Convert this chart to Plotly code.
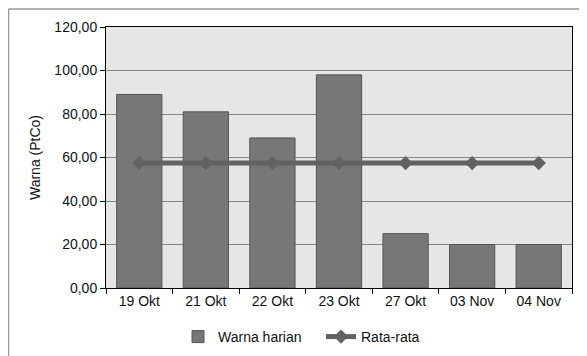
import plotly.graph_objects as go

categories = ["19 Okt", "21 Okt", "22 Okt", "23 Okt", "27 Okt", "03 Nov", "04 Nov"]
warna_harian = [89, 81, 69, 98, 25, 20, 20]
rata_rata = [57.43] * 7
y_ticks = [0, 20, 40, 60, 80, 100, 120]

fig = go.Figure()
fig.add_trace(go.Bar(
    x=categories, y=warna_harian, name="Warna harian",
    marker=dict(color="#777777", line=dict(color="#555555", width=1)),
))
fig.add_trace(go.Scatter(
    x=categories, y=rata_rata, name="Rata-rata", mode="lines+markers",
    line=dict(color="#626262", width=5),
    marker=dict(symbol="diamond", size=11, color="#626262"),
))

# page body has an 8px margin; figure coordinates are page coordinates minus 8
OFF = 8
W, H = 587, 356
L, T = 106 - OFF, 27 - OFF
PR, PB = 572 - OFF, 288 - OFF
R, B = W - PR, H - PB
pw, ph = PR - L, PB - T

def px(x):
    return (x - OFF - L) / pw

def py(y):
    return (PB - (y - OFF)) / ph

fig.update_layout(
    width=W, height=H,
    margin=dict(l=L, r=R, t=T, b=B, autoexpand=False),
    paper_bgcolor="white",
    plot_bgcolor="#e6e6e6",
    separators=",.",
    font=dict(family="Liberation Sans, Arial, sans-serif", size=14, color="#111111"),
    bargap=0.32,
    showlegend=True,
    legend=dict(orientation="h", x=px(178), xanchor="left", y=py(337), yanchor="middle",
                font=dict(size=14), bgcolor="rgba(0,0,0,0)", itemwidth=30,
                entrywidth=98, traceorder="normal"),
    xaxis=dict(
        type="category", showgrid=False, showline=True, linecolor="#000000", linewidth=1,
        mirror=True, ticks="outside", tickson="boundaries", ticklen=5, tickcolor="#000000",
        tickfont=dict(size=14),
    ),
    yaxis=dict(
        range=[0, 120], tickvals=y_ticks, tickformat=".2f",
        showgrid=True, gridcolor="#858585", gridwidth=1,
        showline=True, linecolor="#000000", linewidth=1, mirror=True,
        ticks="outside", ticklen=5, tickcolor="#000000",
        title=dict(text="Warna (PtCo)", font=dict(size=14), standoff=10),
        zeroline=False, tickfont=dict(size=14),
    ),
    shapes=[
        dict(type="line", xref="paper", yref="paper", x0=px(8.5), x1=px(600), y0=py(9), y1=py(9),
             line=dict(color="#999999", width=1.5)),
        dict(type="line", xref="paper", yref="paper", x0=px(8.5), x1=px(8.5), y0=py(9), y1=py(400),
             line=dict(color="#999999", width=1.5)),
        dict(type="line", xref="paper", yref="paper", x0=px(583), x1=px(583), y0=py(14), y1=py(400),
             line=dict(color="#eeeeee", width=1)),
    ],
)

fig.write_html("out.html")
